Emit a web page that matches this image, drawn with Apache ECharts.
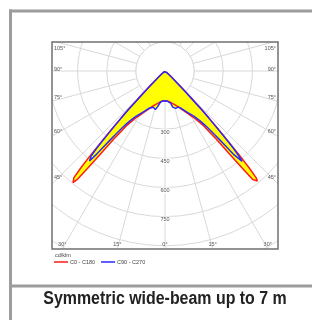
<!DOCTYPE html>
<html>
<head>
<meta charset="utf-8">
<script src="https://cdn.jsdelivr.net/npm/echarts@6/dist/echarts.min.js"></script>
<style>
  html, body { margin: 0; padding: 0; background: #fff; }
  #chart { width: 312px; height: 320px; }
</style>
</head>
<body>
<div id="chart"></div>
<script>
// gamma angle (deg from nadir) and luminous intensity in cd/klm
var gammaDeg = [0, 4, 8, 10, 12, 14, 16, 18, 20, 23, 26, 29, 31, 33, 35, 36, 37, 38, 38.5, 39, 39.5, 40, 40.5, 41, 41.5, 42, 42.5, 43, 43.5, 44, 44.5, 45, 46, 47, 48, 50, 55, 60, 90, 120, 150, 180];
var c0c180 = [153, 155, 160, 164, 169, 174, 180, 187, 195, 212, 232, 255, 275, 300, 340, 385, 440, 560, 640, 720, 745, 740, 722, 660, 575, 470, 395, 330, 272, 205, 150, 120, 70, 40, 25, 12, 6, 4, 3, 2, 2, 2];
var c90c270 = [153, 155, 160, 168, 190, 205, 200, 196, 198, 208, 226, 246, 262, 282, 312, 335, 368, 420, 455, 500, 560, 605, 612, 580, 530, 460, 392, 330, 272, 205, 150, 120, 70, 40, 25, 12, 6, 4, 4, 3, 3, 3];

var radiusLabels = [300, 450, 600, 750];
var bottomAngles = [-30, -15, 0, 15, 30];
var sideAngles = [45, 60, 75, 90, 105];

var seriesNames = ['C0 - C180', 'C90 - C270'];
var unitLabel = 'cd/klm';
var caption = 'Symmetric wide-beam up to 7 m';

var cx = 165, cy = 71, polarR = 233, rMax = 1200;
var box = {left: 52, top: 42, right: 278, bottom: 249};
var pxPerCd = polarR / rMax;
var gridColor = '#d8d8d8';
var labelFont = 'Liberation Sans';

// left half on angles 0..180, mirrored half on 180..360
function toPolar(values) {
    var pts = [];
    for (var i = 0; i < gammaDeg.length; i++) {
        pts.push([values[i], gammaDeg[i]]);
    }
    for (var j = gammaDeg.length - 1; j >= 0; j--) {
        pts.push([values[j], 360 - gammaDeg[j]]);
    }
    return pts;
}

var graphics = [];

// blank disc inside the first ring
graphics.push({
    type: 'circle', z: 1,
    shape: {cx: cx, cy: cy, r: 150 * pxPerCd},
    style: {fill: '#fff', stroke: gridColor, lineWidth: 1}
});

// white masks so the polar grid is clipped to the box
[[0, 0, 312, box.top], [0, box.bottom, 312, 320 - box.bottom],
 [0, box.top, box.left, box.bottom - box.top], [box.right, box.top, 312 - box.right, box.bottom - box.top]]
    .forEach(function (r) {
        graphics.push({type: 'rect', z: 10, shape: {x: r[0], y: r[1], width: r[2], height: r[3]}, style: {fill: '#fff'}});
    });

graphics.push({
    type: 'rect', z: 11,
    shape: {x: box.left, y: box.top, width: box.right - box.left, height: box.bottom - box.top},
    style: {fill: 'none', stroke: '#707070', lineWidth: 1.5}
});

// card frame
var frame = '#9c9c9c';
graphics.push({type: 'line', z: 11, shape: {x1: 10.5, y1: 9.5, x2: 10.5, y2: 320}, style: {stroke: frame, lineWidth: 3}});
graphics.push({type: 'line', z: 11, shape: {x1: 9, y1: 11, x2: 312, y2: 11}, style: {stroke: frame, lineWidth: 3}});
graphics.push({type: 'line', z: 11, shape: {x1: 9, y1: 286, x2: 312, y2: 286}, style: {stroke: frame, lineWidth: 3}});

// radius labels along the nadir line
radiusLabels.forEach(function (v) {
    graphics.push({
        type: 'text', z: 4,
        style: {
            text: String(v), x: cx, y: cy + v * pxPerCd + 3,
            align: 'center', verticalAlign: 'middle',
            fontSize: 5.5, fontFamily: labelFont, fill: '#555',
            backgroundColor: '#fff', padding: [0, 1]
        }
    });
});

// angle labels where the rays meet the box
bottomAngles.forEach(function (a) {
    var x = cx + (box.bottom - cy) * Math.tan(a * Math.PI / 180);
    graphics.push({
        type: 'text', z: 12,
        style: {
            text: Math.abs(a) + '°', x: x, y: box.bottom - 5,
            align: 'center', verticalAlign: 'middle',
            fontSize: 5.5, fontFamily: labelFont, fill: '#555'
        }
    });
});
sideAngles.forEach(function (a) {
    var rad = a * Math.PI / 180;
    var dx = cx - (box.left + 5);
    var y = cy + dx * Math.cos(rad) / Math.sin(rad) - 2;
    y = Math.max(y, box.top + 6);
    graphics.push({
        type: 'text', z: 12,
        style: {
            text: a + '°', x: box.left + 2, y: y,
            align: 'left', verticalAlign: 'middle',
            fontSize: 5.5, fontFamily: labelFont, fill: '#555'
        }
    });
    graphics.push({
        type: 'text', z: 12,
        style: {
            text: a + '°', x: box.right - 2, y: y,
            align: 'right', verticalAlign: 'middle',
            fontSize: 5.5, fontFamily: labelFont, fill: '#555'
        }
    });
});

graphics.push({
    type: 'text', z: 12,
    style: {
        text: unitLabel, x: 55, y: 255, align: 'left', verticalAlign: 'middle',
        fontSize: 5.5, fontFamily: labelFont, fill: '#444'
    }
});

// condensed bold caption
graphics.push({
    type: 'text', z: 12, x: 165, y: 299, scaleX: 0.885,
    style: {
        text: caption, x: 0, y: 0, align: 'center', verticalAlign: 'middle',
        fontSize: 18, fontWeight: 'bold', fontFamily: labelFont,
        fill: '#222'
    }
});

var chart = echarts.init(document.getElementById('chart'), null, {renderer: 'canvas'});

var option = {
    animation: false,
    polar: {center: [cx, cy], radius: polarR},
    angleAxis: {
        type: 'value', min: 0, max: 360, interval: 15,
        startAngle: 270, clockwise: true, z: 0,
        axisLine: {show: false}, axisTick: {show: false}, axisLabel: {show: false},
        splitLine: {show: true, lineStyle: {color: gridColor, width: 1}}
    },
    radiusAxis: {
        type: 'value', min: 0, max: rMax, interval: 150, z: 0,
        axisLine: {show: false}, axisTick: {show: false}, axisLabel: {show: false},
        splitLine: {show: true, lineStyle: {color: gridColor, width: 1}}
    },
    legend: {
        data: seriesNames, left: 54, top: 259, z: 12, padding: 0,
        icon: 'rect', itemWidth: 14, itemHeight: 1.5, itemGap: 6,
        textStyle: {fontSize: 5.5, fontFamily: labelFont, color: '#444', padding: [0, 0, 0, -3]}
    },
    graphic: {elements: graphics},
    series: [
        {
            name: 'fill-c0', type: 'line', coordinateSystem: 'polar', z: 3,
            data: toPolar(c0c180), showSymbol: false, silent: true,
            lineStyle: {width: 0}, areaStyle: {color: '#ffff00', opacity: 1}
        },
        {
            name: 'fill-c90', type: 'line', coordinateSystem: 'polar', z: 3,
            data: toPolar(c90c270), showSymbol: false, silent: true,
            lineStyle: {width: 0}, areaStyle: {color: '#ffff00', opacity: 1}
        },
        {
            name: seriesNames[0], type: 'line', coordinateSystem: 'polar', z: 4,
            data: toPolar(c0c180), showSymbol: false,
            itemStyle: {color: '#ff1a1a'}, lineStyle: {color: '#ff1a1a', width: 1.5}
        },
        {
            name: seriesNames[1], type: 'line', coordinateSystem: 'polar', z: 5,
            data: toPolar(c90c270), showSymbol: false,
            itemStyle: {color: '#2a2aff'}, lineStyle: {color: '#2a2aff', width: 1.5}
        }
    ]
};

chart.setOption(option);
</script>
</body>
</html>
